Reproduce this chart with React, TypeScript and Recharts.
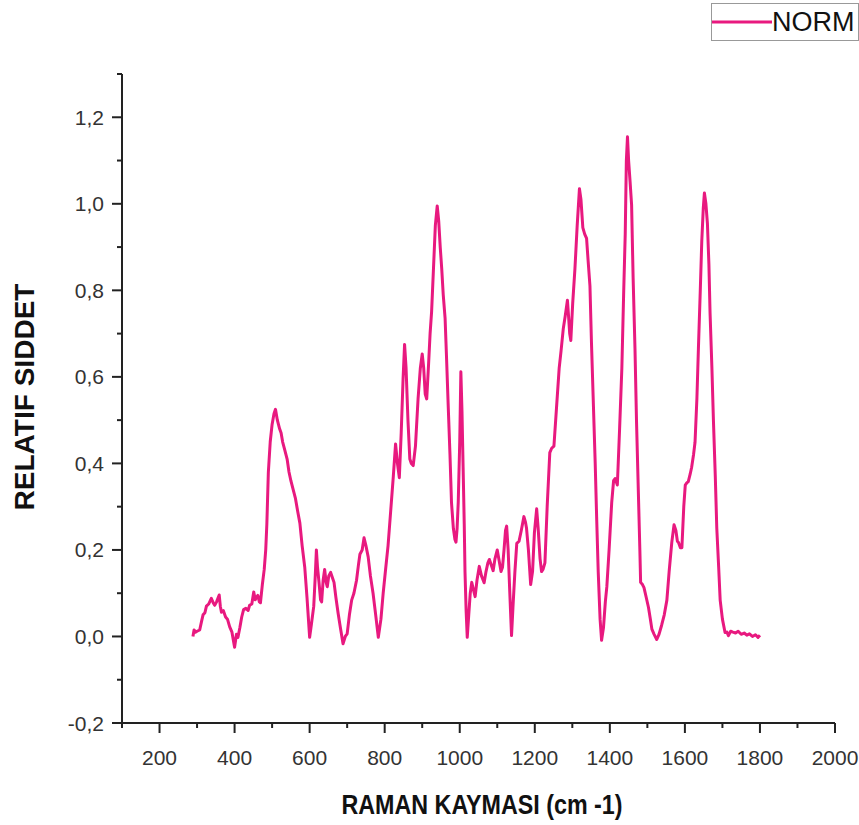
import { LineChart, Line, XAxis, YAxis, Legend, Label } from 'recharts';

// Raman shift (cm-1) and normalised intensity
const ramanShift = [
  289, 292, 296, 300, 307, 312, 316, 321, 325, 331, 338, 343, 347, 352, 359, 362, 365, 370, 376, 381,
  387, 393, 400, 405, 409, 414, 419, 424, 430, 436, 440, 446, 451, 455, 458, 462, 466, 469, 474, 479,
  483, 486, 490, 495, 500, 505, 509, 514, 520, 524, 528, 534, 540, 545, 550, 556, 562, 568, 574, 580,
  587, 593, 600, 605, 611, 615, 618, 621, 625, 629, 632, 636, 640, 644, 647, 651, 656, 661, 665, 670,
  676, 682, 689, 695, 700, 706, 712, 718, 725, 730, 734, 740, 745, 750, 756, 762, 769, 776, 783, 790,
  796, 803, 809, 816, 823, 829, 834, 839, 844, 849, 853, 857, 862, 867, 871, 876, 882, 889, 895, 900,
  904, 908, 912, 917, 921, 925, 930, 935, 940, 944, 948, 952, 956, 961, 965, 969, 974, 978, 983, 987,
  990, 993, 996, 1000, 1003, 1006, 1009, 1012, 1014, 1017, 1020, 1024, 1028, 1032, 1036, 1041, 1046, 1052, 1058, 1065,
  1070, 1075, 1079, 1084, 1089, 1094, 1100, 1105, 1110, 1114, 1118, 1122, 1125, 1129, 1133, 1138, 1142, 1147, 1152, 1158,
  1164, 1171, 1175, 1178, 1183, 1189, 1194, 1199, 1205, 1209, 1214, 1218, 1222, 1227, 1233, 1240, 1245, 1251, 1258, 1265,
  1270, 1276, 1281, 1287, 1290, 1293, 1296, 1301, 1307, 1313, 1319, 1323, 1328, 1333, 1338, 1342, 1347, 1351, 1356, 1361,
  1365, 1369, 1374, 1378, 1383, 1388, 1392, 1398, 1405, 1410, 1414, 1420, 1426, 1432, 1437, 1441, 1444, 1447, 1450, 1454,
  1458, 1462, 1467, 1471, 1476, 1480, 1482, 1487, 1491, 1497, 1503, 1508, 1512, 1518, 1525, 1531, 1538, 1545, 1552, 1558,
  1565, 1571, 1576, 1580, 1583, 1588, 1592, 1597, 1601, 1605, 1609, 1614, 1618, 1623, 1627, 1632, 1636, 1641, 1645, 1649,
  1652, 1656, 1660, 1664, 1667, 1672, 1676, 1681, 1685, 1690, 1694, 1700, 1707, 1712, 1716, 1722, 1728, 1735, 1742, 1750,
  1758, 1765, 1772, 1780, 1788, 1795, 1800,
];

const intensity = [
  0.0, 0.015, 0.01, 0.012, 0.015, 0.035, 0.05, 0.055, 0.07, 0.075, 0.088, 0.078, 0.072, 0.08, 0.096, 0.07, 0.056, 0.06, 0.045, 0.04,
  0.022, 0.01, -0.025, 0.005, -0.002, 0.02, 0.045, 0.062, 0.065, 0.06, 0.072, 0.075, 0.103, 0.085, 0.09, 0.095, 0.08, 0.078, 0.12, 0.155,
  0.2, 0.26, 0.38, 0.45, 0.49, 0.515, 0.525, 0.5, 0.48, 0.47, 0.45, 0.43, 0.41, 0.38, 0.36, 0.34, 0.32, 0.29, 0.262, 0.21,
  0.16, 0.09, -0.002, 0.03, 0.07, 0.14, 0.2, 0.16, 0.125, 0.085, 0.08, 0.13, 0.155, 0.125, 0.115, 0.14, 0.148, 0.135, 0.125, 0.09,
  0.053, 0.02, -0.017, 0.0, 0.006, 0.05, 0.084, 0.1, 0.13, 0.165, 0.19, 0.2, 0.228, 0.21, 0.184, 0.14, 0.1, 0.05, -0.002, 0.04,
  0.1, 0.16, 0.21, 0.29, 0.37, 0.445, 0.4, 0.367, 0.47, 0.595, 0.675, 0.62, 0.5, 0.41, 0.4, 0.395, 0.44, 0.55, 0.62, 0.653,
  0.62, 0.56, 0.549, 0.63, 0.7, 0.75, 0.85, 0.95, 0.995, 0.96, 0.9, 0.85, 0.79, 0.735, 0.64, 0.54, 0.42, 0.31, 0.25, 0.225,
  0.218, 0.25, 0.31, 0.45, 0.612, 0.52, 0.39, 0.26, 0.15, 0.06, -0.002, 0.05, 0.1, 0.125, 0.11, 0.092, 0.13, 0.162, 0.14, 0.124,
  0.15, 0.17, 0.178, 0.165, 0.152, 0.18, 0.2, 0.175, 0.15, 0.16, 0.2, 0.245, 0.255, 0.2, 0.11, 0.002, 0.07, 0.15, 0.215, 0.22,
  0.245, 0.277, 0.265, 0.25, 0.2, 0.12, 0.15, 0.24, 0.295, 0.25, 0.18, 0.15, 0.155, 0.17, 0.3, 0.425, 0.435, 0.44, 0.53, 0.62,
  0.66, 0.712, 0.74, 0.777, 0.74, 0.7, 0.684, 0.77, 0.85, 0.95, 1.035, 1.01, 0.945, 0.93, 0.92, 0.87, 0.81, 0.68, 0.54, 0.4,
  0.27, 0.15, 0.04, -0.009, 0.02, 0.08, 0.115, 0.2, 0.31, 0.36, 0.365, 0.35, 0.48, 0.62, 0.8, 0.93, 1.1, 1.155, 1.1, 1.05,
  0.997, 0.83, 0.665, 0.5, 0.333, 0.2, 0.125, 0.12, 0.113, 0.09, 0.067, 0.04, 0.017, 0.005, -0.007, 0.005, 0.026, 0.05, 0.084, 0.15,
  0.217, 0.258, 0.245, 0.22, 0.217, 0.205, 0.205, 0.3, 0.35, 0.355, 0.358, 0.375, 0.391, 0.42, 0.449, 0.55, 0.665, 0.8, 0.914, 0.99,
  1.025, 1.0, 0.955, 0.86, 0.749, 0.62, 0.5, 0.37, 0.25, 0.16, 0.084, 0.04, 0.009, 0.01, 0.002, 0.012, 0.01, 0.008, 0.012, 0.005,
  0.008, 0.003, 0.006, 0.0, 0.004, -0.002, 0.003,
];

const xTicks = [100, 200, 300, 400, 500, 600, 700, 800, 900, 1000, 1100, 1200, 1300, 1400, 1500, 1600, 1700, 1800, 1900, 2000];
const yTicks = [-0.2, -0.1, 0, 0.1, 0.2, 0.3, 0.4, 0.5, 0.6, 0.7, 0.8, 0.9, 1.0, 1.1, 1.2, 1.3];

const data = ramanShift.map((x, i) => ({ x, norm: intensity[i] }));

const FONT = '"Liberation Sans", Arial, sans-serif';
const INK = '#222';
const PINK = '#e8197f';

function XTick({ x, y, payload }: any) {
  const v = payload.value as number;
  const major = v % 200 === 0;
  return (
    <g>
      <line x1={x} x2={x} y1={y} y2={y + (major ? 10 : 5)} stroke={INK} strokeWidth={2} />
      {major && (
        <text x={x} y={y + 34} textAnchor="middle" dominantBaseline="central" fontSize={21} fontFamily={FONT} fill="#333">
          {v}
        </text>
      )}
    </g>
  );
}

function YTick({ x, y, payload }: any) {
  const v = payload.value as number;
  const major = Math.round(v * 10) % 2 === 0;
  return (
    <g>
      <line x1={x} x2={x - (major ? 10 : 5)} y1={y} y2={y} stroke={INK} strokeWidth={2} />
      {major && (
        <text x={x - 18} y={y} textAnchor="end" dominantBaseline="central" fontSize={21} fontFamily={FONT} fill="#333">
          {v.toFixed(1).replace('.', ',')}
        </text>
      )}
    </g>
  );
}

function LegendBox({ payload }: any) {
  const name = payload && payload[0] ? payload[0].value : 'NORM';
  return (
    <div
      style={{
        width: 148,
        height: 38,
        border: '1px solid #999',
        boxSizing: 'border-box',
        display: 'flex',
        alignItems: 'center',
        fontFamily: FONT,
        fontSize: 27,
        color: '#111',
        whiteSpace: 'nowrap',
        overflow: 'hidden',
      }}
    >
      <svg width={60} height={6} style={{ flex: 'none' }}>
        <line x1={0} x2={60} y1={3} y2={3} stroke={PINK} strokeWidth={3.2} />
      </svg>
      <span>{name}</span>
    </div>
  );
}

export default function App() {
  return (
    <div style={{ position: 'absolute', left: 0, top: 0, width: 859, height: 825, overflow: 'hidden', background: '#fff' }}>
      <LineChart width={859} height={825} data={data} margin={{ top: 74, right: 24, bottom: 42, left: 0 }}>
        <XAxis
          dataKey="x"
          type="number"
          domain={[100, 2000]}
          ticks={xTicks}
          interval={0}
          height={60}
          tickLine={false}
          tickSize={0}
          tickMargin={0}
          tick={<XTick />}
          axisLine={{ stroke: INK, strokeWidth: 2 }}
          allowDataOverflow
        >
          <Label
            content={() => (
              <text
                x={482}
                y={805}
                textAnchor="middle"
                dominantBaseline="central"
                fontSize={27}
                fontWeight="bold"
                fontFamily={FONT}
                fill="#111"
                textLength={281}
                lengthAdjust="spacingAndGlyphs"
              >
                RAMAN KAYMASI (cm -1)
              </text>
            )}
          />
        </XAxis>
        <YAxis
          type="number"
          domain={[-0.2, 1.3]}
          ticks={yTicks}
          interval={0}
          width={122}
          tickLine={false}
          tickSize={0}
          tickMargin={0}
          tick={<YTick />}
          axisLine={{ stroke: INK, strokeWidth: 2 }}
          allowDataOverflow
        >
          <Label
            content={() => (
              <text
                x={25}
                y={397}
                transform="rotate(-90, 25, 397)"
                textAnchor="middle"
                dominantBaseline="central"
                fontSize={27}
                fontWeight="bold"
                fontFamily={FONT}
                fill="#111"
                textLength={227}
                lengthAdjust="spacingAndGlyphs"
              >
                RELATIF SIDDET
              </text>
            )}
          />
        </YAxis>
        <Legend
          layout="vertical"
          align="center"
          verticalAlign="middle"
          wrapperStyle={{ top: 3, left: 711, width: 148 }}
          content={<LegendBox />}
        />
        <Line
          type="linear"
          dataKey="norm"
          name="NORM"
          stroke={PINK}
          strokeWidth={3}
          strokeLinejoin="round"
          dot={false}
          activeDot={false}
          isAnimationActive={false}
        />
      </LineChart>
    </div>
  );
}
